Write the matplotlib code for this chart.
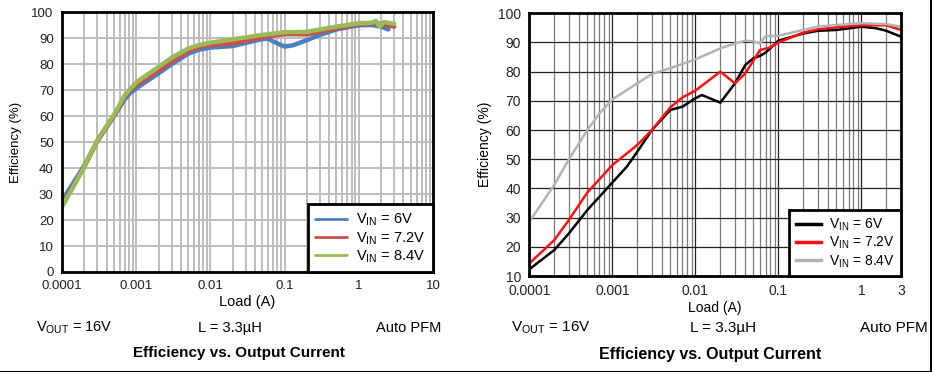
import numpy as np
import matplotlib
matplotlib.use("Agg")
import matplotlib.pyplot as plt
from matplotlib.ticker import LogLocator, FixedLocator, NullFormatter

plt.rcParams['font.family'] = ['Liberation Sans', 'DejaVu Sans']
plt.rcParams['mathtext.fontset'] = 'custom'
plt.rcParams['mathtext.rm'] = 'Liberation Sans'

# ---------------- data: left chart ----------------
left_x_6v = [0.0001, 0.0002, 0.0003, 0.0005, 0.0007, 0.0008, 0.001, 0.002, 0.003, 0.005, 0.007, 0.01, 0.02,
             0.05, 0.06, 0.08, 0.1, 0.13, 0.2, 0.3, 0.5, 1, 1.5, 2, 2.5]
left_y_6v = [27.5, 41, 50.5, 60, 66.5, 68.5, 70.7, 76.5, 80, 84, 85.6, 86.4, 87,
             89.7, 89.8, 88, 86.8, 87.3, 89.3, 91.3, 93.4, 95, 95.1, 94.5, 93.4]
left_x_72v = [0.0001, 0.0002, 0.0003, 0.0005, 0.0007, 0.0008, 0.001, 0.002, 0.003, 0.005, 0.007, 0.01, 0.02, 0.05,
              0.1, 0.2, 0.5, 1, 1.5, 2, 3]
left_y_72v = [25.5, 40.5, 50.5, 60, 67.5, 69.5, 72, 77.5, 81, 85, 86.6, 87.4, 88, 90.4,
              91.6, 91.5, 93.8, 95.4, 95.8, 95.5, 94.5]
left_x_84v = [0.0001, 0.0002, 0.0003, 0.0005, 0.0007, 0.0008, 0.001, 0.002, 0.003, 0.005, 0.007, 0.01, 0.02, 0.05,
              0.1, 0.2, 0.5, 1, 1.5, 1.7, 1.9, 2.2, 3]
left_y_84v = [25, 40.5, 50.8, 60.5, 68, 70, 73, 79, 82.5, 86, 87.4, 88.3, 89.6, 91.3,
              92.3, 92.5, 94.5, 95.8, 96, 96.7, 94.5, 96.3, 95.5]

# ---------------- data: right chart ----------------
right_x_6v = [0.0001, 0.0002, 0.0003, 0.0005, 0.001, 0.0015, 0.002, 0.003, 0.005, 0.007, 0.01, 0.012,
              0.02, 0.03, 0.04, 0.05, 0.06, 0.07, 0.1, 0.2, 0.3, 0.5, 1, 1.5, 2, 3]
right_y_6v = [12.3, 18.9, 24.6, 32.6, 42, 47.5, 52.6, 60, 66.9, 68, 70.9, 72,
              69.4, 76, 82.3, 84.6, 85.4, 86.5, 90.6, 93.1, 94, 94.3, 95.4, 94.9, 94, 92]
right_x_72v = [0.0001, 0.0002, 0.0003, 0.0005, 0.001, 0.002, 0.003, 0.005, 0.007, 0.01, 0.02, 0.03,
               0.04, 0.06, 0.08, 0.1, 0.2, 0.3, 0.5, 1, 2, 3]
right_y_72v = [14.3, 22.3, 29.2, 38.6, 48, 54.9, 60, 67.8, 71.2, 73.5, 80, 76,
               79.4, 87.4, 88.3, 90, 93.4, 94.5, 95.2, 95.9, 95.9, 94.3]
right_x_84v = [0.0001, 0.0002, 0.0003, 0.0005, 0.0007, 0.001, 0.002, 0.003, 0.005, 0.01, 0.02, 0.03,
               0.04, 0.05, 0.06, 0.07, 0.1, 0.2, 0.3, 0.5, 1, 2, 3]
right_y_84v = [28.6, 41.2, 50, 60, 65.7, 70.5, 76, 79.2, 81.2, 84.2, 88, 89.7,
               90.6, 90.4, 89.7, 92.2, 92.3, 94.3, 95.4, 96, 96.6, 96.3, 95.4]

series_labels = [r'V$_\mathregular{IN}$ = 6V', r'V$_\mathregular{IN}$ = 7.2V', r'V$_\mathregular{IN}$ = 8.4V']
left_xticks = [0.0001, 0.001, 0.01, 0.1, 1, 10]
left_xticklabels = ['0.0001', '0.001', '0.01', '0.1', '1', '10']
right_xticks = [0.0001, 0.001, 0.01, 0.1, 1, 3]
right_xticklabels = ['0.0001', '0.001', '0.01', '0.1', '1', '3']
left_yticks = list(range(0, 101, 10))
right_yticks = list(range(10, 101, 10))

W, H = 932, 372
fig = plt.figure(figsize=(W / 100, H / 100), dpi=100)
fig.patch.set_facecolor('white')


def px_axes(x0, y0, x1, y1):
    return fig.add_axes([x0 / W, 1 - y1 / H, (x1 - x0) / W, (y1 - y0) / H])


def ftext(x, y, s, **kw):
    fig.text(x / W, 1 - y / H, s, **kw)


# ---------------- left chart ----------------
axL = px_axes(62, 12.3, 433, 272)
axL.set_xscale('log')
axL.set_xlim(0.0001, 10)
axL.set_ylim(0, 100)
axL.xaxis.set_major_locator(FixedLocator(left_xticks))
axL.set_xticklabels(left_xticklabels)
axL.xaxis.set_minor_locator(LogLocator(base=10, subs=np.arange(2, 10)))
axL.xaxis.set_minor_formatter(NullFormatter())
axL.set_yticks(left_yticks)
axL.grid(True, which='both', color='#bdbdbd', lw=1.4)
axL.set_axisbelow(True)
axL.tick_params(which='both', length=0, labelsize=9.5, colors='#222222', pad=6)
for s in axL.spines.values():
    s.set_linewidth(2)
    s.set_color('black')
lw = 3.2
axL.plot(left_x_6v, left_y_6v, color='#4a7fc1', lw=lw, solid_capstyle='round', solid_joinstyle='round', label=series_labels[0])
axL.plot(left_x_72v, left_y_72v, color='#c9504d', lw=lw, solid_capstyle='round', solid_joinstyle='round', label=series_labels[1])
axL.plot(left_x_84v, left_y_84v, color='#9bbb59', lw=lw, solid_capstyle='round', solid_joinstyle='round', label=series_labels[2])
legL = axL.legend(loc='lower right', bbox_to_anchor=(1, 0), borderaxespad=0, fancybox=False,
                  framealpha=1, edgecolor='black', fontsize=10.5, handlelength=2.2, labelspacing=0.1,
                  handletextpad=0.65, borderpad=0.5)
legL.get_frame().set_linewidth(2)
for h in legL.get_lines():
    h.set_linewidth(2)
axL.set_xlabel('Load (A)', fontsize=10.5, labelpad=2)
axL.set_ylabel('Efficiency (%)', fontsize=9.5, labelpad=7)

ftext(36, 328, r'V$_\mathregular{OUT}$ = 16V', fontsize=10.5, va='center', ha='left')
ftext(230, 328, 'L = 3.3µH', fontsize=10.5, va='center', ha='center')
ftext(441, 328, 'Auto PFM', fontsize=10.5, va='center', ha='right')
ftext(239, 353, 'Efficiency vs. Output Current', fontsize=11, va='center', ha='center', fontweight='bold')

# ---------------- right chart ----------------
axR = px_axes(529.3, 13.3, 901, 276)
axR.set_xscale('log')
axR.set_xlim(0.0001, 3)
axR.set_ylim(10, 100)
axR.xaxis.set_major_locator(FixedLocator(right_xticks))
axR.set_xticklabels(right_xticklabels)
axR.xaxis.set_minor_locator(LogLocator(base=10, subs=np.arange(2, 10)))
axR.xaxis.set_minor_formatter(NullFormatter())
axR.set_yticks(right_yticks)
axR.grid(True, which='major', color='#222222', lw=0.9)
axR.grid(True, which='minor', axis='x', color='#7a7a7a', lw=0.9)
axR.set_axisbelow(True)
axR.tick_params(which='both', length=0, labelsize=10, colors='#222222', pad=6)
for s in axR.spines.values():
    s.set_linewidth(2)
    s.set_color('black')
lw2 = 1.8
axR.plot(right_x_6v, right_y_6v, color='black', lw=lw2, label=series_labels[0])
axR.plot(right_x_72v, right_y_72v, color='#ff1010', lw=lw2, label=series_labels[1])
axR.plot(right_x_84v, right_y_84v, color='#b4b4b4', lw=lw2, label=series_labels[2])
legR = axR.legend(loc='lower right', bbox_to_anchor=(1, 0), borderaxespad=0, fancybox=False,
                  framealpha=1, edgecolor='black', fontsize=10, handlelength=1.8, labelspacing=0.15,
                  handletextpad=0.6, borderpad=0.45)
legR.get_frame().set_linewidth(2)
for h in legR.get_lines():
    h.set_linewidth(2.5)
axR.set_xlabel('Load (A)', fontsize=10, labelpad=2)
axR.set_ylabel('Efficiency (%)', fontsize=10, labelpad=4)

ftext(511, 328, r'V$_\mathregular{OUT}$ = 16V', fontsize=11, va='center', ha='left')
ftext(723, 328, 'L = 3.3µH', fontsize=11, va='center', ha='center')
ftext(928, 328, 'Auto PFM', fontsize=11, va='center', ha='right')
ftext(710, 354, 'Efficiency vs. Output Current', fontsize=11.5, va='center', ha='center', fontweight='bold')

# bottom border line and right edge line
fig.add_artist(plt.Line2D([0, 1], [0.5 / H, 0.5 / H], transform=fig.transFigure, color='black', lw=1.5))
fig.add_artist(plt.Line2D([1 - 1.5 / W, 1 - 1.5 / W], [0, 1], transform=fig.transFigure, color='black', lw=1.5))

fig.savefig('out.png', dpi=100, facecolor='white')
